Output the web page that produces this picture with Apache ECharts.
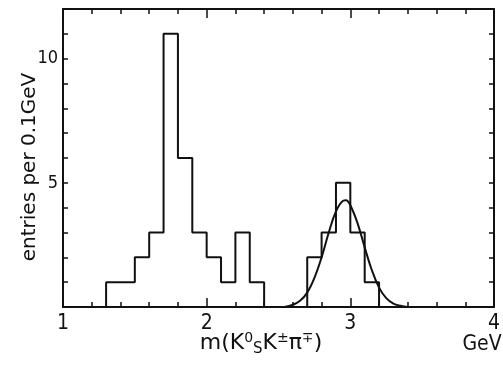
<!DOCTYPE html>
<html>
<head>
<meta charset="utf-8">
<script src="https://cdn.jsdelivr.net/npm/echarts@6/dist/echarts.min.js"></script>
<style>
html,body{margin:0;padding:0;background:#fff;}
#chart{width:503px;height:372px;}
</style>
</head>
<body>
<div id="chart"></div>
<script>
// ---- data ----
const binStart = 1.3;          // GeV, left edge of first bin
const binWidth = 0.1;          // GeV
const counts = [1, 1, 2, 3, 11, 6, 3, 2, 1, 3, 1, 0, 0, 0, 2, 3, 5, 3, 1];
const fitX = [2.54, 2.6, 2.65, 2.7, 2.75, 2.8, 2.85, 2.9, 2.95, 2.97, 3.0, 3.05, 3.1, 3.15, 3.2, 3.25, 3.3, 3.35, 3.4];
const fitY = [0.0, 0.09, 0.25, 0.58, 1.17, 2.0, 3.0, 3.85, 4.28, 4.3, 4.1, 3.38, 2.4, 1.48, 0.78, 0.36, 0.14, 0.05, 0.0];
const xTickLabels = ['1', '2', '3', '4'];
const yTickLabels = ['5', '10'];
const yTitle = 'entries per 0.1GeV';
const xUnit = 'GeV';

// ---- build series data ----
const histData = [[binStart, 0]];
counts.forEach((c, i) => histData.push([+(binStart + i * binWidth).toFixed(2), c]));
histData.push([+(binStart + counts.length * binWidth).toFixed(2), 0]);
const fitData = fitX.map((x, i) => [x, fitY[i]]);

const FONT = "'DejaVu Sans Condensed', 'Liberation Sans Narrow', 'DejaVu Sans', sans-serif";
const WFONT = "'DejaVu Sans', sans-serif";
const INK = '#111';

const chart = echarts.init(document.getElementById('chart'), null, {renderer: 'canvas'});

const commonX = {
  type: 'value', min: 1, max: 4, interval: 1,
  axisLine: {show: true, onZero: false, lineStyle: {color: INK, width: 2}},
  axisTick: {show: true, inside: true, length: 9, lineStyle: {color: INK, width: 1.5}},
  minorTick: {show: true, splitNumber: 5, length: 5, lineStyle: {color: INK, width: 1.5}},
  splitLine: {show: false}, minorSplitLine: {show: false}
};
const commonY = {
  type: 'value', min: 0, max: 12, interval: 1,
  axisLine: {show: true, onZero: false, lineStyle: {color: INK, width: 2}},
  axisTick: {show: true, inside: true, length: 5, lineStyle: {color: INK, width: 1.5}},
  splitLine: {show: false}
};

chart.setOption({
  animation: false,
  backgroundColor: '#fff',
  grid: {left: 63, right: 3, top: 9, bottom: 65, containLabel: false},
  xAxis: [
    Object.assign({}, commonX, {
      position: 'bottom',
      axisLabel: {show: true, margin: 6, color: INK, fontFamily: FONT, fontSize: 21,
        formatter: v => xTickLabels.indexOf(String(v)) >= 0 ? String(v) : ''}
    }),
    Object.assign({}, commonX, {position: 'top', axisLabel: {show: false}})
  ],
  yAxis: [
    Object.assign({}, commonY, {
      position: 'left',
      axisLabel: {show: true, margin: 5, color: INK, fontFamily: FONT, fontSize: 18,
        formatter: v => yTickLabels.indexOf(String(v)) >= 0 ? String(v) : ''}
    }),
    Object.assign({}, commonY, {position: 'right', axisLabel: {show: false}})
  ],
  graphic: [
    {
      type: 'text', x: 30, y: 167, rotation: Math.PI / 2,
      style: {text: yTitle, fill: INK, font: "20px " + WFONT, align: 'center', verticalAlign: 'middle'}
    },
    {
      type: 'text', x: 261, y: 343,
      style: {
        text: '{n|m(K}{sp|0}{sb|S}{n|K}{sp|±}{n|π}{sp|∓}{n|)}',
        align: 'center', verticalAlign: 'middle',
        rich: {
          n: {fontFamily: WFONT, fontSize: 22, fill: INK, lineHeight: 28, verticalAlign: 'middle'},
          sp: {fontFamily: WFONT, fontSize: 14, fill: INK, lineHeight: 28, verticalAlign: 'top', padding: [2, 0, 0, 0]},
          sb: {fontFamily: WFONT, fontSize: 15, fill: INK, lineHeight: 28, verticalAlign: 'bottom'}
        }
      }
    },
    {
      type: 'text', x: 482, y: 345,
      style: {text: xUnit, fill: INK, font: "21px " + FONT, align: 'center', verticalAlign: 'middle'}
    }
  ],
  series: [
    {
      type: 'line', xAxisIndex: 0, yAxisIndex: 0, step: 'end', showSymbol: false, symbol: 'none',
      data: histData, lineStyle: {color: INK, width: 2}, z: 3
    },
    {
      type: 'line', xAxisIndex: 0, yAxisIndex: 0, smooth: 0.4, showSymbol: false, symbol: 'none',
      data: fitData, lineStyle: {color: INK, width: 2}, z: 4
    }
  ]
});
</script>
</body>
</html>
